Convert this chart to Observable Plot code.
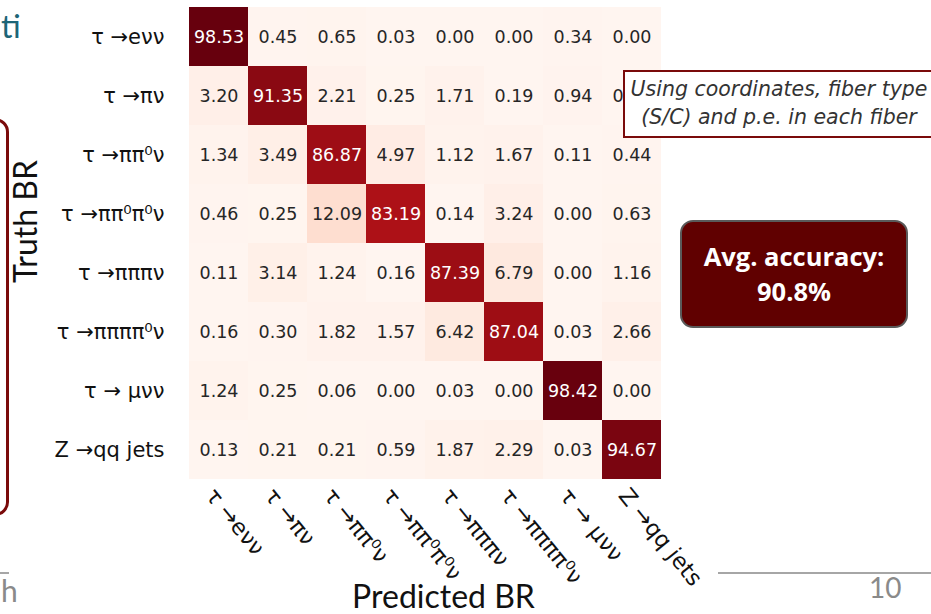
<!DOCTYPE html>
<html>
<head>
<meta charset="utf-8">
<script src="https://cdn.jsdelivr.net/npm/d3@7"></script>
<script src="https://cdn.jsdelivr.net/npm/@observablehq/plot@0.6"></script>
<style>
  html, body { margin: 0; padding: 0; background: #fff; }
  #wrap { position: relative; width: 931px; height: 614px; overflow: hidden; }
  #wrap svg { position: absolute; left: 0; top: 0; }
  .ov { position: absolute; }
</style>
</head>
<body>
<div id="wrap"></div>
<script>
// ---- data ----
const classes = ["τ →eνν", "τ →πν", "τ →ππ⁰ν", "τ →ππ⁰π⁰ν", "τ →πππν", "τ →ππππ⁰ν", "τ → μνν", "Z →qq jets"];
const row_evv       = [98.53, 0.45, 0.65, 0.03, 0.00, 0.00, 0.34, 0.00];
const row_piv       = [3.20, 91.35, 2.21, 0.25, 1.71, 0.19, 0.94, 0.00];
const row_pipi0v    = [1.34, 3.49, 86.87, 4.97, 1.12, 1.67, 0.11, 0.44];
const row_pipi0pi0v = [0.46, 0.25, 12.09, 83.19, 0.14, 3.24, 0.00, 0.63];
const row_3piv      = [0.11, 3.14, 1.24, 0.16, 87.39, 6.79, 0.00, 1.16];
const row_3pipi0v   = [0.16, 0.30, 1.82, 1.57, 6.42, 87.04, 0.03, 2.66];
const row_muvv      = [1.24, 0.25, 0.06, 0.00, 0.03, 0.00, 98.42, 0.00];
const row_zqq       = [0.13, 0.21, 0.21, 0.59, 1.87, 2.29, 0.03, 94.67];
const rows = [row_evv, row_piv, row_pipi0v, row_pipi0pi0v, row_3piv, row_3pipi0v, row_muvv, row_zqq];
const xTitle = "Predicted BR";
const yTitle = "Truth BR";
const accuracyText = ["Avg. accuracy:", "90.8%"];
const noteText = ["Using coordinates, fiber type", "(S/C) and p.e. in each fiber"];

const cells = [];
rows.forEach((r, i) => r.forEach((v, j) => cells.push({truth: classes[i], pred: classes[j], v})));
const vmax = d3.max(cells, d => d.v);

const chart = Plot.plot({
  width: 931,
  height: 614,
  marginLeft: 187,
  marginRight: 269,
  marginTop: 5,
  marginBottom: 134,
  style: {background: "transparent", overflow: "visible"},
  x: {domain: classes, padding: 0, axis: null},
  y: {domain: classes, padding: 0, axis: null},
  color: {type: "linear", scheme: "reds", domain: [0, vmax]},
  marks: [
    Plot.cell(cells, {x: "pred", y: "truth", fill: "v", inset: 0, shapeRendering: "crispEdges"}),
    Plot.text(cells, {
      x: "pred", y: "truth", text: d => d.v.toFixed(2),
      fill: d => d.v > 50 ? "#ffffff" : "#262626",
      fontSize: 17.5, fontFamily: "DejaVu Sans"
    }),
    // y tick labels
    Plot.text(classes, {
      y: d => d, frameAnchor: "left", dx: -23, textAnchor: "end",
      fontSize: 21, fontFamily: "DejaVu Sans", fill: "#111"
    }),
    // x tick labels (rotated)
    Plot.text(classes, {
      x: d => d, frameAnchor: "bottom", dx: -9, dy: 11, rotate: 51,
      textAnchor: "start", lineAnchor: "middle",
      fontSize: 22.5, fontFamily: "DejaVu Sans", fill: "#111"
    }),
    // axis titles
    Plot.text([yTitle], {
      frameAnchor: "top-left", dx: -161, dy: 216, rotate: -90,
      textAnchor: "middle", lineAnchor: "middle",
      fontSize: 32, fontFamily: "Lato", fill: "#111"
    }),
    Plot.text([xTitle], {
      frameAnchor: "bottom-left", dx: 256, dy: 127,
      textAnchor: "middle", lineAnchor: "bottom",
      fontSize: 32, fontFamily: "Lato", fill: "#111"
    })
  ]
});
const wrap = document.getElementById("wrap");
wrap.appendChild(chart);

function addDiv(html, css) {
  const d = document.createElement("div");
  d.className = "ov";
  d.innerHTML = html;
  Object.assign(d.style, css);
  wrap.appendChild(d);
  return d;
}
// slide decorations
addDiv("", {left: "-300px", top: "118px", width: "303px", height: "392px", border: "3px solid #7a0a0a", borderRadius: "14px"});
addDiv("ti", {left: "1px", top: "6px", fontFamily: "Lato", fontSize: "32px", color: "#1d6577", lineHeight: "40px"});
addDiv("h", {left: "1px", top: "570px", fontFamily: "Lato", fontSize: "30px", color: "#8a8a8a", lineHeight: "40px"});
addDiv("10", {left: "869px", top: "567px", fontFamily: "Lato", fontSize: "28px", color: "#8a8a8a", lineHeight: "40px"});
addDiv("", {left: "0px", top: "572px", width: "9px", height: "2px", background: "#a6a6a6"});
addDiv("", {left: "718px", top: "572px", width: "213px", height: "2px", background: "#a6a6a6"});
// note box
addDiv(noteText.join("<br>"), {
  left: "623px", top: "70px", width: "308px", height: "61px", paddingRight: "30px", background: "#fff",
  border: "2px solid #7a0a0a", fontFamily: "DejaVu Sans", fontStyle: "italic",
  fontSize: "20.5px", lineHeight: "28px", color: "#333", textAlign: "center", paddingTop: "3px", boxSizing: "content-box"
});
// accuracy box
addDiv(accuracyText.join("<br>"), {
  left: "680px", top: "220px", width: "224px", height: "104px", background: "#600000",
  border: "2px solid #5a5a5a", borderRadius: "13px", fontFamily: "Open Sans", fontWeight: "bold",
  fontSize: "25.5px", lineHeight: "35px", color: "#fff", textAlign: "center",
  display: "flex", flexDirection: "column", justifyContent: "center"
});
</script>
</body>
</html>
